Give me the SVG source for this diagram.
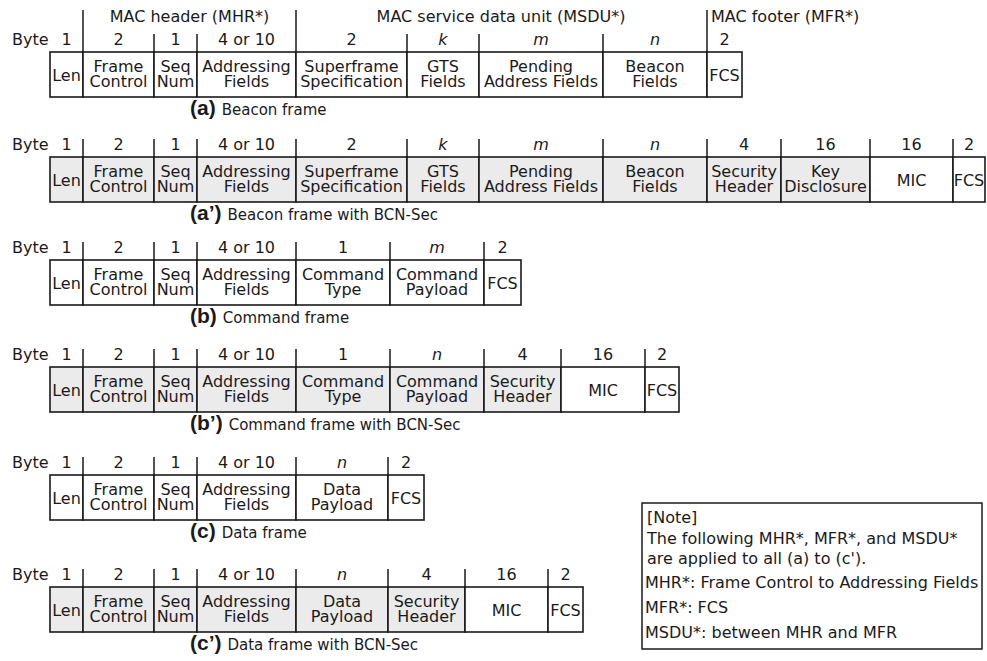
<svg xmlns="http://www.w3.org/2000/svg" width="987" height="661" viewBox="0 0 987 661">
<style>
.c{fill:#fff;stroke:#1a1a1a;stroke-width:1.6}
.g{fill:#ebebeb;stroke:#1a1a1a;stroke-width:1.6}
.t{font-family:"DejaVu Sans",sans-serif;font-size:16px;fill:#1a1a1a;text-anchor:middle}
.l{font-family:"DejaVu Sans",sans-serif;font-size:16px;fill:#1a1a1a}
.i{font-style:italic}
.tk{stroke:#1a1a1a;stroke-width:1.5}
.cap{font-family:"DejaVu Sans",sans-serif;font-size:15px;fill:#1a1a1a}
.cb{font-family:"Liberation Sans",Arial,sans-serif;font-size:21px;font-weight:bold;fill:#1a1a1a}
</style>
<rect width="987" height="661" fill="#fff"/>

<g id="headers">
<text class="t" x="189.5" y="22">MAC header (MHR*)</text>
<text class="t" x="501" y="22">MAC service data unit (MSDU*)</text>
<text class="l" x="711" y="22">MAC footer (MFR*)</text>
</g>

<g id="connectors">
<line class="tk" x1="83" y1="10" x2="83" y2="52"/>
<line class="tk" x1="296" y1="10" x2="296" y2="52"/>
<line class="tk" x1="707" y1="10" x2="707" y2="52"/>
<path class="tk" d="M154 34V52M197 34V52M407 34V52M479 34V52M603 34V52"/>
<path class="tk" d="M83 139V157M154 139V157M197 139V157M296 139V157M407 139V157M479 139V157M603 139V157M707 139V157M781 139V157M870 139V157M953 139V157"/>
<path class="tk" d="M83 242V260M154 242V260M197 242V260M296 242V260M390 242V260M484 242V260"/>
<path class="tk" d="M83 349V367M154 349V367M197 349V367M296 349V367M390 349V367M484 349V367M561 349V367M645 349V367"/>
<path class="tk" d="M83 457V475M154 457V475M197 457V475M296 457V475M388 457V475"/>
<path class="tk" d="M83 569V587M154 569V587M197 569V587M296 569V587M388 569V587M465 569V587M548 569V587"/>
</g>

<g id="row-a">
<text class="l" x="12" y="45">Byte</text>
<text class="t" x="66.5" y="45">1</text><text class="t" x="118.5" y="45">2</text><text class="t" x="175.5" y="45">1</text><text class="t" x="246.5" y="45">4 or 10</text><text class="t" x="351.5" y="45">2</text><text class="t i" x="443" y="45">k</text><text class="t i" x="541" y="45">m</text><text class="t i" x="655" y="45">n</text><text class="t" x="724.5" y="45">2</text>
<g id="a-len"><rect class="c" x="50" y="52" width="33" height="45"/><text class="t" x="66.5" y="81">Len</text></g>
<g id="a-fc"><rect class="c" x="83" y="52" width="71" height="45"/><text class="t" x="118.5" y="72">Frame</text><text class="t" x="118.5" y="87">Control</text></g>
<g id="a-seq"><rect class="c" x="154" y="52" width="43" height="45"/><text class="t" x="175.5" y="72">Seq</text><text class="t" x="175.5" y="87">Num</text></g>
<g id="a-addr"><rect class="c" x="197" y="52" width="99" height="45"/><text class="t" x="246.5" y="72">Addressing</text><text class="t" x="246.5" y="87">Fields</text></g>
<g id="a-sf"><rect class="c" x="296" y="52" width="111" height="45"/><text class="t" x="351.5" y="72">Superframe</text><text class="t" x="351.5" y="87">Specification</text></g>
<g id="a-gts"><rect class="c" x="407" y="52" width="72" height="45"/><text class="t" x="443" y="72">GTS</text><text class="t" x="443" y="87">Fields</text></g>
<g id="a-pend"><rect class="c" x="479" y="52" width="124" height="45"/><text class="t" x="541" y="72">Pending</text><text class="t" x="541" y="87">Address Fields</text></g>
<g id="a-bf"><rect class="c" x="603" y="52" width="104" height="45"/><text class="t" x="655" y="72">Beacon</text><text class="t" x="655" y="87">Fields</text></g>
<g id="a-fcs"><rect class="c" x="707" y="52" width="35" height="45"/><text class="t" x="724.5" y="81">FCS</text></g>
<text x="190" y="115"><tspan class="cb">(a)</tspan><tspan class="cap" dx="6">Beacon frame</tspan></text>
</g>

<g id="row-a2">
<text class="l" x="12" y="150">Byte</text>
<text class="t" x="66.5" y="150">1</text><text class="t" x="118.5" y="150">2</text><text class="t" x="175.5" y="150">1</text><text class="t" x="246.5" y="150">4 or 10</text><text class="t" x="351.5" y="150">2</text><text class="t i" x="443" y="150">k</text><text class="t i" x="541" y="150">m</text><text class="t i" x="655" y="150">n</text><text class="t" x="744" y="150">4</text><text class="t" x="825.5" y="150">16</text><text class="t" x="911.5" y="150">16</text><text class="t" x="969" y="150">2</text>
<g id="a2-len"><rect class="g" x="50" y="157" width="33" height="45"/><text class="t" x="66.5" y="186">Len</text></g>
<g id="a2-fc"><rect class="g" x="83" y="157" width="71" height="45"/><text class="t" x="118.5" y="177">Frame</text><text class="t" x="118.5" y="192">Control</text></g>
<g id="a2-seq"><rect class="g" x="154" y="157" width="43" height="45"/><text class="t" x="175.5" y="177">Seq</text><text class="t" x="175.5" y="192">Num</text></g>
<g id="a2-addr"><rect class="g" x="197" y="157" width="99" height="45"/><text class="t" x="246.5" y="177">Addressing</text><text class="t" x="246.5" y="192">Fields</text></g>
<g id="a2-sf"><rect class="g" x="296" y="157" width="111" height="45"/><text class="t" x="351.5" y="177">Superframe</text><text class="t" x="351.5" y="192">Specification</text></g>
<g id="a2-gts"><rect class="g" x="407" y="157" width="72" height="45"/><text class="t" x="443" y="177">GTS</text><text class="t" x="443" y="192">Fields</text></g>
<g id="a2-pend"><rect class="g" x="479" y="157" width="124" height="45"/><text class="t" x="541" y="177">Pending</text><text class="t" x="541" y="192">Address Fields</text></g>
<g id="a2-bf"><rect class="g" x="603" y="157" width="104" height="45"/><text class="t" x="655" y="177">Beacon</text><text class="t" x="655" y="192">Fields</text></g>
<g id="a2-sh"><rect class="g" x="707" y="157" width="74" height="45"/><text class="t" x="744" y="177">Security</text><text class="t" x="744" y="192">Header</text></g>
<g id="a2-kd"><rect class="g" x="781" y="157" width="89" height="45"/><text class="t" x="825.5" y="177">Key</text><text class="t" x="825.5" y="192">Disclosure</text></g>
<g id="a2-mic"><rect class="c" x="870" y="157" width="83" height="45"/><text class="t" x="911.5" y="186">MIC</text></g>
<g id="a2-fcs"><rect class="c" x="953" y="157" width="32" height="45"/><text class="t" x="969" y="186">FCS</text></g>
<text x="190" y="220"><tspan class="cb">(a’)</tspan><tspan class="cap" dx="6">Beacon frame with BCN-Sec</tspan></text>
</g>

<g id="row-b">
<text class="l" x="12" y="253">Byte</text>
<text class="t" x="66.5" y="253">1</text><text class="t" x="118.5" y="253">2</text><text class="t" x="175.5" y="253">1</text><text class="t" x="246.5" y="253">4 or 10</text><text class="t" x="343" y="253">1</text><text class="t i" x="437" y="253">m</text><text class="t" x="502.5" y="253">2</text>
<g id="b-len"><rect class="c" x="50" y="260" width="33" height="45"/><text class="t" x="66.5" y="289">Len</text></g>
<g id="b-fc"><rect class="c" x="83" y="260" width="71" height="45"/><text class="t" x="118.5" y="280">Frame</text><text class="t" x="118.5" y="295">Control</text></g>
<g id="b-seq"><rect class="c" x="154" y="260" width="43" height="45"/><text class="t" x="175.5" y="280">Seq</text><text class="t" x="175.5" y="295">Num</text></g>
<g id="b-addr"><rect class="c" x="197" y="260" width="99" height="45"/><text class="t" x="246.5" y="280">Addressing</text><text class="t" x="246.5" y="295">Fields</text></g>
<g id="b-ct"><rect class="c" x="296" y="260" width="94" height="45"/><text class="t" x="343" y="280">Command</text><text class="t" x="343" y="295">Type</text></g>
<g id="b-cp"><rect class="c" x="390" y="260" width="94" height="45"/><text class="t" x="437" y="280">Command</text><text class="t" x="437" y="295">Payload</text></g>
<g id="b-fcs"><rect class="c" x="484" y="260" width="37" height="45"/><text class="t" x="502.5" y="289">FCS</text></g>
<text x="190" y="323"><tspan class="cb">(b)</tspan><tspan class="cap" dx="6">Command frame</tspan></text>
</g>

<g id="row-b2">
<text class="l" x="12" y="360">Byte</text>
<text class="t" x="66.5" y="360">1</text><text class="t" x="118.5" y="360">2</text><text class="t" x="175.5" y="360">1</text><text class="t" x="246.5" y="360">4 or 10</text><text class="t" x="343" y="360">1</text><text class="t i" x="437" y="360">n</text><text class="t" x="522.5" y="360">4</text><text class="t" x="603" y="360">16</text><text class="t" x="662" y="360">2</text>
<g id="b2-len"><rect class="g" x="50" y="367" width="33" height="45"/><text class="t" x="66.5" y="396">Len</text></g>
<g id="b2-fc"><rect class="g" x="83" y="367" width="71" height="45"/><text class="t" x="118.5" y="387">Frame</text><text class="t" x="118.5" y="402">Control</text></g>
<g id="b2-seq"><rect class="g" x="154" y="367" width="43" height="45"/><text class="t" x="175.5" y="387">Seq</text><text class="t" x="175.5" y="402">Num</text></g>
<g id="b2-addr"><rect class="g" x="197" y="367" width="99" height="45"/><text class="t" x="246.5" y="387">Addressing</text><text class="t" x="246.5" y="402">Fields</text></g>
<g id="b2-ct"><rect class="g" x="296" y="367" width="94" height="45"/><text class="t" x="343" y="387">Command</text><text class="t" x="343" y="402">Type</text></g>
<g id="b2-cp"><rect class="g" x="390" y="367" width="94" height="45"/><text class="t" x="437" y="387">Command</text><text class="t" x="437" y="402">Payload</text></g>
<g id="b2-sh"><rect class="g" x="484" y="367" width="77" height="45"/><text class="t" x="522.5" y="387">Security</text><text class="t" x="522.5" y="402">Header</text></g>
<g id="b2-mic"><rect class="c" x="561" y="367" width="84" height="45"/><text class="t" x="603" y="396">MIC</text></g>
<g id="b2-fcs"><rect class="c" x="645" y="367" width="34" height="45"/><text class="t" x="662" y="396">FCS</text></g>
<text x="190" y="430"><tspan class="cb">(b’)</tspan><tspan class="cap" dx="6">Command frame with BCN-Sec</tspan></text>
</g>

<g id="row-c">
<text class="l" x="12" y="468">Byte</text>
<text class="t" x="66.5" y="468">1</text><text class="t" x="118.5" y="468">2</text><text class="t" x="175.5" y="468">1</text><text class="t" x="246.5" y="468">4 or 10</text><text class="t i" x="342" y="468">n</text><text class="t" x="406" y="468">2</text>
<g id="c-len"><rect class="c" x="50" y="475" width="33" height="45"/><text class="t" x="66.5" y="504">Len</text></g>
<g id="c-fc"><rect class="c" x="83" y="475" width="71" height="45"/><text class="t" x="118.5" y="495">Frame</text><text class="t" x="118.5" y="510">Control</text></g>
<g id="c-seq"><rect class="c" x="154" y="475" width="43" height="45"/><text class="t" x="175.5" y="495">Seq</text><text class="t" x="175.5" y="510">Num</text></g>
<g id="c-addr"><rect class="c" x="197" y="475" width="99" height="45"/><text class="t" x="246.5" y="495">Addressing</text><text class="t" x="246.5" y="510">Fields</text></g>
<g id="c-dp"><rect class="c" x="296" y="475" width="92" height="45"/><text class="t" x="342" y="495">Data</text><text class="t" x="342" y="510">Payload</text></g>
<g id="c-fcs"><rect class="c" x="388" y="475" width="36" height="45"/><text class="t" x="406" y="504">FCS</text></g>
<text x="190" y="538"><tspan class="cb">(c)</tspan><tspan class="cap" dx="6">Data frame</tspan></text>
</g>

<g id="row-c2">
<text class="l" x="12" y="580">Byte</text>
<text class="t" x="66.5" y="580">1</text><text class="t" x="118.5" y="580">2</text><text class="t" x="175.5" y="580">1</text><text class="t" x="246.5" y="580">4 or 10</text><text class="t i" x="342" y="580">n</text><text class="t" x="426.5" y="580">4</text><text class="t" x="506.5" y="580">16</text><text class="t" x="565.5" y="580">2</text>
<g id="c2-len"><rect class="g" x="50" y="587" width="33" height="45"/><text class="t" x="66.5" y="616">Len</text></g>
<g id="c2-fc"><rect class="g" x="83" y="587" width="71" height="45"/><text class="t" x="118.5" y="607">Frame</text><text class="t" x="118.5" y="622">Control</text></g>
<g id="c2-seq"><rect class="g" x="154" y="587" width="43" height="45"/><text class="t" x="175.5" y="607">Seq</text><text class="t" x="175.5" y="622">Num</text></g>
<g id="c2-addr"><rect class="g" x="197" y="587" width="99" height="45"/><text class="t" x="246.5" y="607">Addressing</text><text class="t" x="246.5" y="622">Fields</text></g>
<g id="c2-dp"><rect class="g" x="296" y="587" width="92" height="45"/><text class="t" x="342" y="607">Data</text><text class="t" x="342" y="622">Payload</text></g>
<g id="c2-sh"><rect class="g" x="388" y="587" width="77" height="45"/><text class="t" x="426.5" y="607">Security</text><text class="t" x="426.5" y="622">Header</text></g>
<g id="c2-mic"><rect class="c" x="465" y="587" width="83" height="45"/><text class="t" x="506.5" y="616">MIC</text></g>
<g id="c2-fcs"><rect class="c" x="548" y="587" width="35" height="45"/><text class="t" x="565.5" y="616">FCS</text></g>
<text x="190" y="650"><tspan class="cb">(c’)</tspan><tspan class="cap" dx="6">Data frame with BCN-Sec</tspan></text>
</g>

<g id="note">
<rect x="642" y="503" width="340" height="146" fill="#fff" stroke="#1a1a1a" stroke-width="1.5"/>
<text class="l" x="647" y="523">[Note]</text>
<text class="l" x="647" y="544">The following MHR*, MFR*, and MSDU*</text>
<text class="l" x="647" y="564">are applied to all (a) to (c').</text>
<text class="l" x="645" y="588">MHR*: Frame Control to Addressing Fields</text>
<text class="l" x="645" y="613">MFR*: FCS</text>
<text class="l" x="645" y="638">MSDU*: between MHR and MFR</text>
</g>
</svg>
